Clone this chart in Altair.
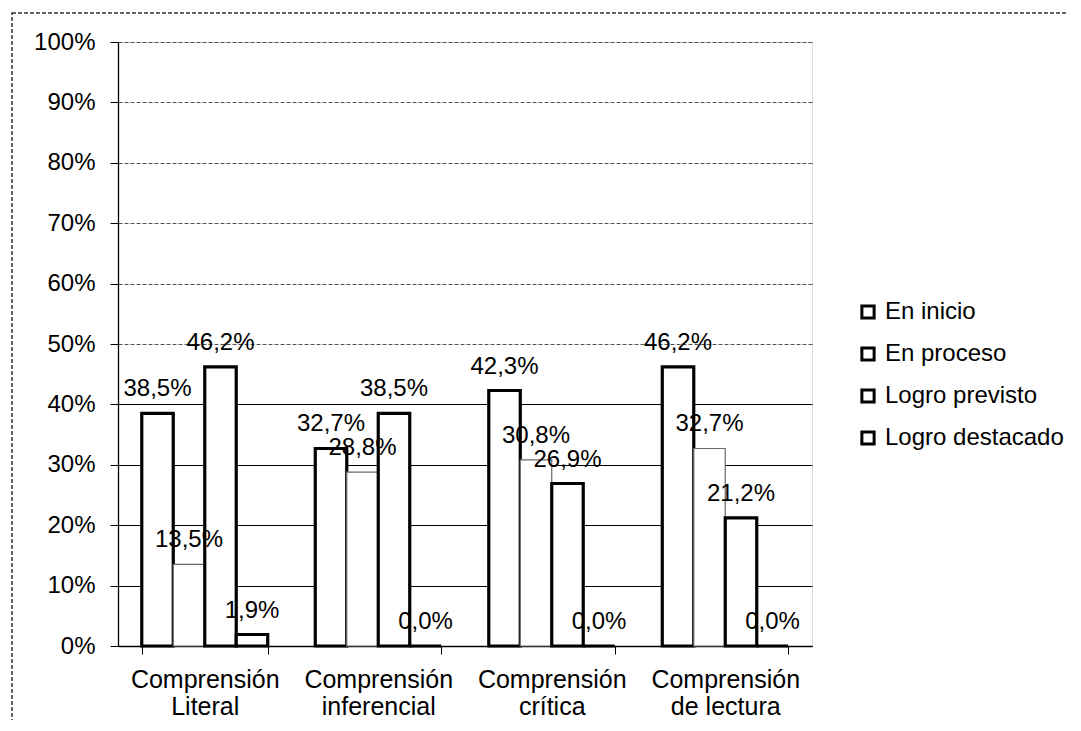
import altair as alt
import pandas as pd

categorias = ["Comprensión\nLiteral", "Comprensión\ninferencial", "Comprensión\ncrítica", "Comprensión\nde lectura"]
series = ["En inicio", "En proceso", "Logro previsto", "Logro destacado"]
en_inicio = [38.5, 32.7, 42.3, 46.2]
en_proceso = [13.5, 28.8, 30.8, 32.7]
logro_previsto = [46.2, 38.5, 26.9, 21.2]
logro_destacado = [1.9, 0.0, 0.0, 0.0]
y_ticks = [0, 10, 20, 30, 40, 50, 60, 70, 80, 90, 100]

rows = []
for s, vals in zip(series, [en_inicio, en_proceso, logro_previsto, logro_destacado]):
    for c, v in zip(categorias, vals):
        rows.append({"cat": c, "serie": s, "valor": v})
df = pd.DataFrame(rows)

FONT = "Liberation Sans"

x_enc = alt.X("cat:N", sort=categorias, title=None,
              scale=alt.Scale(paddingInner=0.274, paddingOuter=0.137),
              axis=alt.Axis(labelExpr="split(datum.label, '\\n')", labelAngle=0,
                            labelFontSize=25, labelLineHeight=27, labelPadding=13,
                            labelColor="black", labelFont=FONT, tickBand="extent",
                            tickSize=8, tickColor="black", domainColor="black",
                            domainWidth=1.3, grid=False))
xoff = alt.XOffset("serie:N", sort=series)
y_enc = alt.Y("valor:Q", title=None,
              scale=alt.Scale(domain=[0, 100], nice=False),
              axis=alt.Axis(values=y_ticks, labelExpr="datum.value + '%'",
                            labelFontSize=24, labelFont=FONT, labelColor="black",
                            labelPadding=15, tickSize=8, tickColor="black",
                            domainColor="black", domainWidth=1.3,
                            gridColor=alt.condition("datum.value >= 50", alt.value("#555555"), alt.value("black")),
                            gridDash=alt.condition("datum.value >= 50", alt.value([4, 2]), alt.value([])),
                            gridWidth=1.2))

bars = alt.Chart(df).mark_bar(fillOpacity=1).encode(
    x=x_enc,
    xOffset=xoff,
    y=y_enc,
    fill=alt.Fill("serie:N", sort=series,
                  scale=alt.Scale(domain=series, range=["white", "white", "white", "white"]),
                  legend=alt.Legend(title=None, orient="none", legendX=738, legendY=258,
                                    labelFontSize=24, labelFont=FONT, labelColor="black",
                                    labelLimit=400,
                                    symbolType="square", symbolSize=150,
                                    symbolStrokeColor="black", symbolStrokeWidth=3,
                                    symbolFillColor="white", rowPadding=16, labelOffset=5)),
    stroke=alt.condition(alt.datum.serie == "En proceso", alt.value("#6a6a6a"), alt.value("black")),
    strokeWidth=alt.condition(alt.datum.serie == "En proceso", alt.value(1.2), alt.value(3.2)),
)

labels = alt.Chart(df).transform_calculate(
    txt="replace(format(datum.valor, '.1f'), '.', ',') + '%'"
).mark_text(baseline="middle", dy=-24, fontSize=24, font=FONT, color="black").encode(
    x=alt.X("cat:N", sort=categorias),
    xOffset=xoff,
    y=alt.Y("valor:Q"),
    text="txt:N",
)

border = alt.Chart(pd.DataFrame({"a": [0]})).mark_rect(
    fill=None, stroke="#333333", strokeWidth=1.5, strokeDash=[4, 2], clip=False
).encode(x=alt.value(-106), x2=alt.value(1000), y=alt.value(-29), y2=alt.value(720))

chart = alt.layer(border, bars, labels).properties(
    width=694, height=604,
    padding={"left": 110, "top": 34, "right": 255, "bottom": 74},
    autosize=alt.AutoSizeParams(type="none"),
).configure_view(stroke=None).configure(background="white")

chart.save("out.html", embed_options={"renderer": "svg", "actions": False})
